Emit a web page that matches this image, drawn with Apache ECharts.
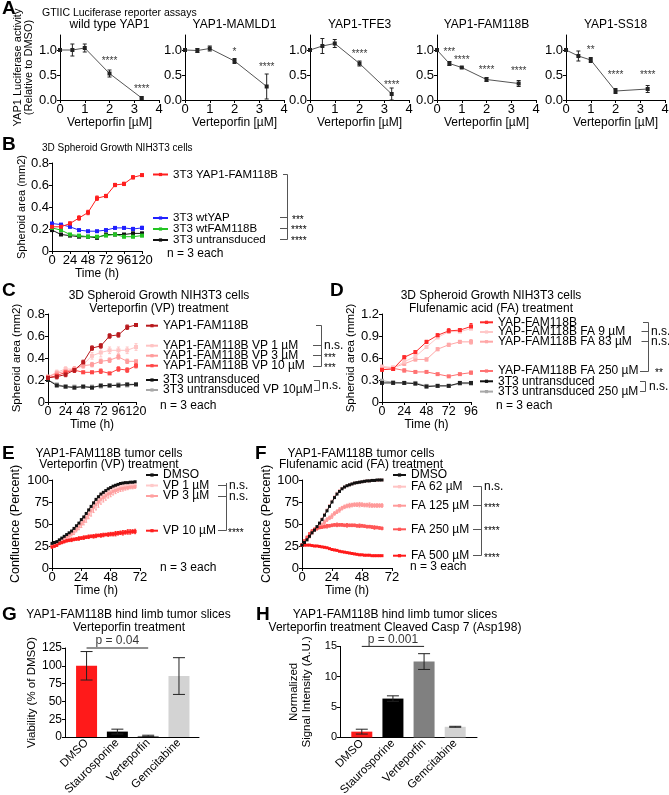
<!DOCTYPE html>
<html><head><meta charset="utf-8">
<script src="https://cdn.jsdelivr.net/npm/echarts@6/dist/echarts.min.js"></script>
<style>html,body{margin:0;padding:0;background:#fff}#c{width:669px;height:795px}</style>
</head><body><div id="c"></div>
<script>
// ================= DATA =================
// Panel A: GTIIC luciferase
const doseA = [0, 0.5, 1, 2, 3.3];
const titlesA = ['wild type YAP1', 'YAP1-MAMLD1', 'YAP1-TFE3', 'YAP1-FAM118B', 'YAP1-SS18'];
const lucWT = [1.0, 1.0, 1.04, 0.53, 0.04];
const lucWTErr = [0.03, 0.12, 0.08, 0.07, 0.02];
const lucMAMLD1 = [1.0, 0.99, 1.03, 0.78, 0.27];
const lucMAMLD1Err = [0.03, 0.04, 0.05, 0.05, 0.25];
const lucTFE3 = [1.0, 1.08, 1.13, 0.73, 0.12];
const lucTFE3Err = [0.02, 0.15, 0.08, 0.05, 0.12];
const lucFAM = [1.0, 0.73, 0.65, 0.41, 0.33];
const lucFAMErr = [0.03, 0.04, 0.01, 0.04, 0.06];
const lucSS18 = [1.0, 0.88, 0.80, 0.18, 0.22];
const lucSS18Err = [0.03, 0.10, 0.05, 0.05, 0.07];
const starsWT = [[2, 0.81, '****'], [3.3, 0.26, '****']];
const starsMAMLD1 = [[2, 1.0, '*'], [3.3, 0.69, '****']];
const starsTFE3 = [[2, 0.95, '****'], [3.3, 0.34, '****']];
const starsFAM = [[0.5, 1.0, '***'], [1, 0.83, '****'], [2, 0.63, '****'], [3.3, 0.61, '****']];
const starsSS18 = [[1, 1.04, '**'], [2, 0.53, '****'], [3.3, 0.53, '****']];

// Panel B: 3D spheroid growth
const timeB = [0, 12, 24, 36, 48, 60, 72, 84, 96, 108, 120];
const bYapFam = [0.22, 0.22, 0.25, 0.30, 0.35, 0.48, 0.50, 0.60, 0.61, 0.67, 0.69];
const bYapFamErr = [0.01, 0.01, 0.015, 0.02, 0.02, 0.02, 0.015, 0.015, 0.015, 0.015, 0.01];
const bWtYap = [0.25, 0.24, 0.22, 0.19, 0.18, 0.18, 0.19, 0.21, 0.21, 0.20, 0.21];
const bWtYapErr = [0.01, 0.01, 0.01, 0.01, 0.005, 0.005, 0.01, 0.01, 0.01, 0.015, 0.015];
const bWtFam = [0.21, 0.19, 0.15, 0.14, 0.13, 0.13, 0.14, 0.15, 0.13, 0.13, 0.14];
const bWtFamErr = [0.01, 0.01, 0.01, 0.005, 0.005, 0.005, 0.005, 0.01, 0.01, 0.01, 0.01];
const bUntr = [0.19, 0.15, 0.14, 0.13, 0.13, 0.12, 0.15, 0.15, 0.15, 0.16, 0.16];
const bUntrErr = [0.01, 0.005, 0.005, 0.005, 0.005, 0.01, 0.01, 0.005, 0.005, 0.01, 0.01];

// Panel C: VP treatment spheroids
const timeC = [0, 12, 24, 36, 48, 60, 72, 84, 96, 108, 120];
const cYapFam = [0.22, 0.23, 0.25, 0.29, 0.36, 0.49, 0.51, 0.60, 0.61, 0.68, 0.70];
const cYapFamErr = [0.02, 0.02, 0.02, 0.02, 0.02, 0.02, 0.02, 0.02, 0.02, 0.02, 0.01];
const cVP1 = [0.23, 0.27, 0.30, 0.30, 0.34, 0.42, 0.45, 0.47, 0.47, 0.47, 0.50];
const cVP1Err = [0.01, 0.02, 0.02, 0.02, 0.03, 0.03, 0.04, 0.03, 0.03, 0.03, 0.03];
const cVP3 = [0.23, 0.26, 0.28, 0.30, 0.33, 0.34, 0.37, 0.38, 0.41, 0.37, 0.37];
const cVP3Err = [0.01, 0.02, 0.02, 0.02, 0.02, 0.02, 0.02, 0.02, 0.02, 0.02, 0.01];
const cVP10 = [0.22, 0.24, 0.27, 0.29, 0.27, 0.27, 0.28, 0.26, 0.30, 0.29, 0.33];
const cVP10Err = [0.01, 0.01, 0.02, 0.02, 0.01, 0.01, 0.02, 0.01, 0.02, 0.02, 0.02];
const cUntr = [0.20, 0.15, 0.14, 0.13, 0.14, 0.13, 0.15, 0.15, 0.15, 0.16, 0.16];
const cUntrVP = [0.20, 0.16, 0.14, 0.14, 0.14, 0.14, 0.14, 0.15, 0.16, 0.15, 0.16];

// Panel D: FA treatment spheroids
const timeD = [0, 12, 24, 36, 48, 60, 72, 84, 96];
const dYapFam = [0.44, 0.45, 0.61, 0.68, 0.82, 0.91, 0.97, 0.98, 1.03];
const dYapFamErr = [0.02, 0.02, 0.02, 0.02, 0.02, 0.02, 0.03, 0.02, 0.04];
const dFA9 = [0.48, 0.46, 0.55, 0.62, 0.75, 0.88, 0.96, 0.96, 1.00];
const dFA83 = [0.48, 0.47, 0.52, 0.58, 0.58, 0.72, 0.78, 0.82, 0.82];
const dFA83Err = [0.02, 0.01, 0.02, 0.02, 0.02, 0.02, 0.02, 0.02, 0.03];
const dFA250 = [0.47, 0.46, 0.43, 0.41, 0.41, 0.38, 0.35, 0.38, 0.40];
const dFA250Err = [0.02, 0.01, 0.02, 0.01, 0.01, 0.01, 0.01, 0.01, 0.02];
const dUntr = [0.26, 0.26, 0.26, 0.25, 0.21, 0.22, 0.22, 0.26, 0.26];
const dUntr250 = [0.29, 0.27, 0.26, 0.26, 0.22, 0.22, 0.22, 0.25, 0.25];

// Panel E: tumor cells confluence, VP
const timeE = [0,2,4,6,8,10,12,14,16,18,20,22,24,26,28,30,32,34,36,38,40,42,44,46,48,50,52,54,56,58,60,62,64,66,68];
const eDMSO = [28,29,30,32,34,36,38,40,42,45,48,51,55,58,62,66,70,74,78,81,84,86,88,90,91.5,93,94,95,96,96.5,97,97,97.5,97.5,98];
const eVP1 = [26,27,28,30,32,34,36,38,40,43,46,49,52,56,60,64,68,72,76,79,82,84,86,88,89,90,91,92,92.5,93,93.5,94,94,94.5,95];
const eVP1Err = [1,1,1,1,1,1.5,1.5,1.5,2,2,2,2.5,2.5,3,3,3,3,3,3,3,3,2.5,2.5,2.5,2,2,2,2,2,1.5,1.5,1.5,1.5,1.5,1.5];
const eVP3 = [25,26,27,29,31,33,35,37,39,41,44,47,50,53,57,61,65,69,72,75,78,80,82,84,85,87,88,89,90,90.5,91,91.5,92,92,92.5];
const eVP3Err = [1,1,1,1.5,1.5,2,2,2,2.5,3,3,3.5,4,4,5,5,6,6,6,6,5.5,5,5,4.5,4,4,3.5,3,3,3,2.5,2.5,2,2,2];
const eVP10 = [24,25,26,28,29,30,31,31.5,32,32.5,33,33.5,34,34.5,35,35.5,36,36,36.5,37,37,37.5,38,38,38.5,38.5,39,39.5,40,40,40.5,41,41,41.5,41.5];
const eVP10Err = [1.5,1.5,1.5,1.5,1.5,1.5,1.5,1.5,2,1.5,1.5,2,1.5,2,1.5,2,1.5,2,2,1.5,2,2,1.5,2,2,2,2.5,2,2,2.5,2,2.5,2.5,2,2.5];

// Panel F: tumor cells confluence, FA
const timeF = [0,2,4,6,8,10,12,14,16,18,20,22,24,26,28,30,32,34,36,38,40,42,44,46,48,50,52,54,56,58,60,62,64];
const fDMSO = [26,29,32,36,40,43,47,51,55,60,65,70,75,80,84,87,90,92,93.5,94.5,95.5,96.5,97,97.5,98,98.5,99,99,99.5,99.5,100,100,100];
const fFA62 = [26,29,32,35,39,43,47,51,56,61,66,71,76,81,85,88,90.5,92,93.5,94.5,95.5,96.5,97,97.5,98,98.5,99,99,99.5,99.5,99.5,100,100];
const fFA125 = [26,30,34,38,41,43,45,47,49,52,55,57,59,62,64,66,68,69.5,70.5,71,71.5,72,72,72,72,71.5,71.5,71.5,71,71,71,71,71];
const fFA125Err = [0.5,1,1,1.5,1.5,1.5,2,2,2,2.5,2,2,2.5,2,2,2.5,2,2,2,2.5,2,2,2,2.5,2,2,2,2.5,2,2,2,2,2];
const fFA250 = [26,31,35,39,42,44,45,46,46.5,47,47.5,48,48.5,49,49,49,49,48.5,48.5,48.5,48.5,48.5,48,48,48,47.5,47,47,46.5,46,46,45.5,45];
const fFA250Err = [0.5,1,1,1,1.5,1.5,1.5,1.5,1.5,1.5,2,1.5,1.5,1.5,2,1.5,1.5,1.5,2,1.5,1.5,1.5,1.5,2,1.5,1.5,1.5,1.5,1.5,2,1.5,1.5,1.5];
const fFA500 = [26,26,26,26,25.5,25,25,24.5,24,23.5,23,22,21,20.5,20,19,18.5,18,17.5,17,16.5,16,15.5,15,15,14.5,14.5,14.5,14,14,14,14,14];

// Panels G / H: tumor slices
const treatments = ['DMSO', 'Staurosporine', 'Verteporfin', 'Gemcitabine'];
const viability = [100, 7.6, 1.5, 85.6];
const viabilityErr = [20, 3.4, 1, 25.8];
const casp7 = [0.95, 6.4, 12.5, 1.75];
const casp7Err = [0.4, 0.45, 1.3, 0.08];
const barColors = ['#ff1a1a', '#000000', '#808080', '#d3d3d3'];

// ================= BUILD =================
const FF = "'Liberation Sans', Arial, Helvetica, sans-serif";
const grids = [], xAxes = [], yAxes = [], series = [], legends = [], gfx = [];

function merge(a, b) {
  for (const k in b) {
    if (b[k] && typeof b[k] === 'object' && !Array.isArray(b[k]) && a[k] && typeof a[k] === 'object' && !Array.isArray(a[k])) merge(a[k], b[k]);
    else a[k] = b[k];
  }
  return a;
}
function vAxis(o) {
  return merge({
    type: 'value', splitLine: { show: false }, nameLocation: 'middle',
    axisLine: { show: true, onZero: false, lineStyle: { color: '#000', width: 1 } },
    axisTick: { show: true, length: 3, lineStyle: { color: '#000', width: 1 } },
    axisLabel: { color: '#000', fontFamily: FF, fontSize: 13, margin: 3 },
    nameTextStyle: { color: '#000', fontFamily: FF, fontSize: 12 }
  }, o || {});
}
function addGrid(g, x, y) {
  const i = grids.length;
  grids.push(merge({ containLabel: false, outerBoundsMode: 'none' }, g));
  x.gridIndex = i; y.gridIndex = i;
  xAxes.push(x); yAxes.push(y);
  return i;
}
function lineS(gi, name, xs, ys, color, opt) {
  return merge({
    type: 'line', name: name, xAxisIndex: gi, yAxisIndex: gi,
    data: xs.map((x, i) => [x, ys[i]]),
    symbol: 'rect', symbolSize: 4, showSymbol: true,
    lineStyle: { color: color, width: 1 }, itemStyle: { color: color },
    emphasis: { disabled: true }, silent: true, clip: false, z: 3
  }, opt || {});
}
function errRender(color, cap) {
  return function (params, api) {
    const x = api.value(0), y = api.value(1), e = api.value(2);
    const p1 = api.coord([x, y + e]), p2 = api.coord([x, y - e]);
    const st = { stroke: color, lineWidth: 1 };
    return { type: 'group', children: [
      { type: 'line', shape: { x1: p1[0], y1: p1[1], x2: p2[0], y2: p2[1] }, style: st },
      { type: 'line', shape: { x1: p1[0] - cap / 2, y1: p1[1], x2: p1[0] + cap / 2, y2: p1[1] }, style: st },
      { type: 'line', shape: { x1: p2[0] - cap / 2, y1: p2[1], x2: p2[0] + cap / 2, y2: p2[1] }, style: st }
    ] };
  };
}
function errS(gi, xs, ys, es, color, cap, z) {
  return { type: 'custom', xAxisIndex: gi, yAxisIndex: gi, silent: true, z: z || 2, clip: false,
    data: xs.map((x, i) => [x, ys[i], es[i]]), encode: { x: 0, y: 1 },
    renderItem: errRender(color, cap) };
}
function labelS(gi, pts, fontSize, offY) {
  return { type: 'scatter', xAxisIndex: gi, yAxisIndex: gi, silent: true, z: 6, symbolSize: 0, clip: false,
    data: pts.map(p => ({ value: [p[0], p[1]], label: { formatter: p[2] } })),
    label: { show: true, position: 'inside', color: '#000', fontSize: fontSize, fontFamily: FF, offset: [0, offY || 0] } };
}
function T(text, x, y, o) {
  o = o || {};
  const al = o.align || 'left';
  return { type: 'text', x: x, y: y, silent: true, z: 100,
    style: { text: text, fill: o.color || '#000', fontSize: o.fontSize || 12, fontFamily: FF,
      fontWeight: o.fontWeight || 'normal', align: al, verticalAlign: 'middle',
      textAlign: al, textVerticalAlign: 'middle' } };
}
function L(x1, y1, x2, y2, color) {
  return { type: 'line', silent: true, z: 100, shape: { x1: x1, y1: y1, x2: x2, y2: y2 },
    style: { stroke: color || '#555', lineWidth: 1 } };
}
function legend(names, left, top, fontSize, gap, iw) {
  legends.push({ data: names, orient: 'vertical', left: left, top: top, padding: 0,
    itemWidth: iw || 13, itemHeight: 4, itemGap: gap, selectedMode: false,
    textStyle: { color: '#000', fontSize: fontSize, fontFamily: FF } });
}

// ---------- Panel A ----------
const lucA = [lucWT, lucMAMLD1, lucTFE3, lucFAM, lucSS18];
const lucAErr = [lucWTErr, lucMAMLD1Err, lucTFE3Err, lucFAMErr, lucSS18Err];
const starsA = [starsWT, starsMAMLD1, starsTFE3, starsFAM, starsSS18];
const aLefts = [60, 185, 310, 437, 566];
for (let i = 0; i < 5; i++) {
  const gi = addGrid({ left: aLefts[i], top: 35, width: 99, height: 65 },
    vAxis({ min: 0, max: 4, interval: 1, name: 'Verteporfin [µM]', nameGap: 13,
      nameTextStyle: { fontSize: 12 } }),
    vAxis({ min: 0, max: 1.3,
      axisLabel: { customValues: [0, 0.5, 1], formatter: v => Number(v).toFixed(1) },
      axisTick: { customValues: [0, 0.5, 1] },
      name: i === 0 ? 'YAP1 Luciferase activity\n(Relative to DMSO)' : '', nameGap: 17,
      nameTextStyle: { fontSize: 11, lineHeight: 11.5 } }));
  series.push(errS(gi, doseA, lucA[i], lucAErr[i], '#222', 4));
  series.push(lineS(gi, 'A' + i, doseA, lucA[i], '#222', { lineStyle: { color: '#555' } }));
  series.push(labelS(gi, starsA[i], 10, 2));
  gfx.push(T(titlesA[i], aLefts[i] + 49.5, 25, { fontSize: 12, align: 'center' }));
}
gfx.push(T('GTIIC Luciferase reporter assays', 42, 13, { fontSize: 10.5 }));

// ---------- Panel B ----------
const ySpheroidFmt = v => (v === 0 ? '0' : Number(v).toFixed(1));
{
  const gi = addGrid({ left: 52, top: 163, width: 90, height: 88 },
    vAxis({ min: 0, max: 120, interval: 24, name: 'Time (h)', nameGap: 13 }),
    vAxis({ min: 0, max: 0.8, interval: 0.2, axisLabel: { formatter: ySpheroidFmt },
      name: 'Spheroid area (mm2)', nameGap: 24, nameTextStyle: { fontSize: 11 } }));
  const C = { red: '#ff1f1f', blue: '#2020ff', green: '#22c422', black: '#111' };
  series.push(errS(gi, timeB, bUntr, bUntrErr, C.black, 3));
  series.push(lineS(gi, '3T3 untransduced', timeB, bUntr, C.black));
  series.push(errS(gi, timeB, bWtFam, bWtFamErr, C.green, 3));
  series.push(lineS(gi, '3T3 wtFAM118B', timeB, bWtFam, C.green));
  series.push(errS(gi, timeB, bWtYap, bWtYapErr, C.blue, 3));
  series.push(lineS(gi, '3T3 wtYAP', timeB, bWtYap, C.blue));
  series.push(errS(gi, timeB, bYapFam, bYapFamErr, C.red, 3));
  series.push(lineS(gi, '3T3 YAP1-FAM118B', timeB, bYapFam, C.red));
  legend(['3T3 YAP1-FAM118B'], 152, 168.5, 11.5, -1, 15);
  legend(['3T3 wtYAP', '3T3 wtFAM118B', '3T3 untransduced'], 152, 212, 11.5, -1, 15);
  gfx.push(T('3D Spheroid Growth NIH3T3 cells', 42, 148, { fontSize: 10 }));
  gfx.push(T('n = 3 each', 167, 254, { fontSize: 12 }));
  gfx.push(L(287.5, 174.5, 287.5, 239.5), L(283, 174.5, 287.5, 174.5),
    L(280, 217.5, 287.5, 217.5), L(280, 228.5, 287.5, 228.5), L(280, 239.5, 287.5, 239.5));
  gfx.push(T('***', 292, 220.5, { fontSize: 10 }), T('****', 291, 230.5, { fontSize: 10 }), T('****', 291, 241.5, { fontSize: 10 }));
}

// ---------- Panel C ----------
{
  const gi = addGrid({ left: 48, top: 314, width: 88, height: 88 },
    vAxis({ min: 0, max: 120, interval: 24, name: 'Time (h)', nameGap: 13, axisLabel: { fontSize: 12.5 } }),
    vAxis({ min: 0, max: 0.8, interval: 0.2, axisLabel: { formatter: ySpheroidFmt },
      name: 'Spheroid area (mm2)', nameGap: 21, nameTextStyle: { fontSize: 11.5 } }));
  const C = { dark: '#b8191d', vp1: '#ffc4c4', vp3: '#ff9c9c', vp10: '#ff4646', black: '#222', grey: '#a8a8a8' };
  series.push(lineS(gi, '3T3 untransduced VP 10µM', timeC, cUntrVP, C.grey));
  series.push(lineS(gi, '3T3 untransduced', timeC, cUntr, C.black));
  series.push(errS(gi, timeC, cVP1, cVP1Err, C.vp1, 3));
  series.push(lineS(gi, 'YAP1-FAM118B VP 1 µM', timeC, cVP1, C.vp1));
  series.push(errS(gi, timeC, cVP3, cVP3Err, C.vp3, 3));
  series.push(lineS(gi, 'YAP1-FAM118B VP 3 µM', timeC, cVP3, C.vp3));
  series.push(errS(gi, timeC, cVP10, cVP10Err, C.vp10, 3));
  series.push(lineS(gi, 'YAP1-FAM118B VP 10 µM', timeC, cVP10, C.vp10));
  series.push(errS(gi, timeC, cYapFam, cYapFamErr, C.dark, 3));
  series.push(lineS(gi, 'YAP1-FAM118B', timeC, cYapFam, C.dark));
  legend(['YAP1-FAM118B'], 145, 319.7, 12, -2, 12);
  legend(['YAP1-FAM118B VP 1 µM', 'YAP1-FAM118B VP 3 µM', 'YAP1-FAM118B VP 10 µM'], 145, 339.7, 12, -2, 12);
  legend(['3T3 untransduced', '3T3 untransduced VP 10µM'], 145, 374, 12, -2, 12);
  gfx.push(T('3D Spheroid Growth NIH3T3 cells', 159, 296, { fontSize: 12, align: 'center' }));
  gfx.push(T('Verteporfin (VP) treatment', 159, 308.3, { fontSize: 12, align: 'center' }));
  gfx.push(T('n = 3 each', 160, 405.7, { fontSize: 12 }));
  gfx.push(L(321.5, 325.5, 321.5, 366.5), L(316, 325.5, 321.5, 325.5),
    L(313, 345.5, 321.5, 345.5), L(313, 355.5, 321.5, 355.5), L(313, 366.5, 321.5, 366.5));
  gfx.push(T('n.s.', 324, 345.7, { fontSize: 12 }), T('***', 324, 358, { fontSize: 10 }), T('***', 324, 368.5, { fontSize: 10 }));
  gfx.push(L(319.5, 380.5, 319.5, 390.5), L(314, 380.5, 319.5, 380.5), L(314, 390.5, 319.5, 390.5));
  gfx.push(T('n.s.', 322, 385.5, { fontSize: 12 }));
}

// ---------- Panel D ----------
{
  const gi = addGrid({ left: 382, top: 314, width: 89, height: 88 },
    vAxis({ min: 0, max: 96, interval: 24, name: 'Time (h)', nameGap: 13, axisLabel: { fontSize: 12.5 } }),
    vAxis({ min: 0, max: 1.2, interval: 0.3, axisLabel: { formatter: ySpheroidFmt },
      name: 'Spheroid area (mm2)', nameGap: 24, nameTextStyle: { fontSize: 11.5 } }));
  const C = { red: '#ff2a2a', fa9: '#ffc8c8', fa83: '#ffa8a8', fa250: '#ff7272', black: '#222', grey: '#a8a8a8' };
  series.push(lineS(gi, '3T3 untransduced 250 µM', timeD, dUntr250, C.grey));
  series.push(lineS(gi, '3T3 untransduced', timeD, dUntr, C.black));
  series.push(errS(gi, timeD, dFA250, dFA250Err, C.fa250, 3));
  series.push(lineS(gi, 'YAP-FAM118B FA 250 µM', timeD, dFA250, C.fa250));
  series.push(errS(gi, timeD, dFA83, dFA83Err, C.fa83, 3));
  series.push(lineS(gi, 'YAP-FAM118B FA 83 µM', timeD, dFA83, C.fa83));
  series.push(lineS(gi, 'YAP-FAM118B FA 9 µM', timeD, dFA9, C.fa9));
  series.push(errS(gi, timeD, dYapFam, dYapFamErr, C.red, 3));
  series.push(lineS(gi, 'YAP-FAM118B', timeD, dYapFam, C.red));
  legend(['YAP-FAM118B', 'YAP-FAM118B FA 9 µM', 'YAP-FAM118B FA 83 µM'], 479, 316.3, 12, -2.3, 13);
  legend(['YAP-FAM118B FA 250 µM', '3T3 untransduced', '3T3 untransduced 250 µM'], 479, 365, 12, -1.7, 13);
  gfx.push(T('3D Spheroid Growth NIH3T3 cells', 491, 296, { fontSize: 12, align: 'center' }));
  gfx.push(T('Flufenamic acid (FA) treatment', 491, 308.3, { fontSize: 12, align: 'center' }));
  gfx.push(T('n = 3 each', 496, 405.7, { fontSize: 12 }));
  gfx.push(L(648.5, 322.5, 648.5, 371.5), L(643, 322.5, 648.5, 322.5),
    L(641.5, 331.5, 648.5, 331.5), L(641.5, 341.5, 648.5, 341.5), L(640, 371.5, 648.5, 371.5));
  gfx.push(T('n.s.', 651, 331.7, { fontSize: 12 }), T('n.s.', 651, 341.7, { fontSize: 12 }), T('**', 655, 373.5, { fontSize: 10 }));
  gfx.push(L(645.5, 381.5, 645.5, 391.5), L(640, 381.5, 645.5, 381.5), L(640, 391.5, 645.5, 391.5));
  gfx.push(T('n.s.', 649, 386.7, { fontSize: 12 }));
}

// ---------- Panel E ----------
{
  const gi = addGrid({ left: 52, top: 480, width: 88, height: 88 },
    vAxis({ min: 0, max: 72, interval: 24, name: 'Time (h)', nameGap: 14 }),
    vAxis({ min: 0, max: 100, interval: 25, name: 'Confluence (Percent)', nameGap: 29.5,
      nameTextStyle: { fontSize: 12.5 } }));
  const C = { vp1: '#ffcaca', vp3: '#ffa0a0', vp10: '#ff1f1f', black: '#111' };
  series.push(errS(gi, timeE, eVP1, eVP1Err, C.vp1, 2));
  series.push(lineS(gi, 'VP 1 µM', timeE, eVP1, C.vp1, { symbolSize: 3 }));
  series.push(errS(gi, timeE, eVP3, eVP3Err, C.vp3, 2));
  series.push(lineS(gi, 'VP 3 µM', timeE, eVP3, C.vp3, { symbolSize: 3 }));
  series.push(errS(gi, timeE, eVP10, eVP10Err, C.vp10, 2));
  series.push(lineS(gi, 'VP 10 µM', timeE, eVP10, C.vp10, { symbolSize: 3 }));
  series.push(lineS(gi, 'DMSO', timeE, eDMSO, C.black, { symbolSize: 3, z: 4 }));
  legend(['DMSO', 'VP 1 µM', 'VP 3 µM'], 145, 469, 12, -1.5, 12);
  legend(['VP 10 µM'], 145, 524.7, 12, 0, 12);
  gfx.push(T('YAP1-FAM118B tumor cells', 109, 453.3, { fontSize: 12, align: 'center' }));
  gfx.push(T('Verteporfin (VP) treatment', 109, 464.5, { fontSize: 12, align: 'center' }));
  gfx.push(T('n = 3 each', 160, 567.3, { fontSize: 12 }));
  gfx.push(L(226.5, 483, 226.5, 530.5), L(218, 485.5, 226.5, 485.5), L(218, 496.5, 226.5, 496.5), L(218, 530.5, 226.5, 530.5));
  gfx.push(T('n.s.', 229, 485.5, { fontSize: 12 }), T('n.s.', 229, 496.5, { fontSize: 12 }), T('****', 228, 533, { fontSize: 10 }));
}

// ---------- Panel F ----------
{
  const gi = addGrid({ left: 302, top: 480, width: 90, height: 88 },
    vAxis({ min: 0, max: 72, interval: 24, name: 'Time (h)', nameGap: 14 }),
    vAxis({ min: 0, max: 100, interval: 25, name: 'Confluence (Percent)', nameGap: 27.5,
      nameTextStyle: { fontSize: 12.5 } }));
  const C = { fa62: '#ffc4c4', fa125: '#ff9a9a', fa250: '#ff5656', fa500: '#ff1a1a', black: '#111' };
  series.push(lineS(gi, 'FA 62 µM', timeF, fFA62, C.fa62, { symbolSize: 3 }));
  series.push(errS(gi, timeF, fFA125, fFA125Err, C.fa125, 2));
  series.push(lineS(gi, 'FA 125 µM', timeF, fFA125, C.fa125, { symbolSize: 3 }));
  series.push(errS(gi, timeF, fFA250, fFA250Err, C.fa250, 2));
  series.push(lineS(gi, 'FA 250 µM', timeF, fFA250, C.fa250, { symbolSize: 3 }));
  series.push(lineS(gi, 'FA 500 µM', timeF, fFA500, C.fa500, { symbolSize: 3 }));
  series.push(lineS(gi, 'DMSO', timeF, fDMSO, C.black, { symbolSize: 3, z: 4 }));
  legend(['DMSO', 'FA 62 µM'], 392, 469, 12, -0.3, 13);
  legend(['FA 125 µM'], 392, 499.7, 12, 0, 13);
  legend(['FA 250 µM'], 392, 523.3, 12, 0, 13);
  legend(['FA 500 µM'], 392, 549.7, 12, 0, 13);
  gfx.push(T('YAP1-FAM118B tumor cells', 361, 453.3, { fontSize: 12, align: 'center' }));
  gfx.push(T('Flufenamic acid (FA) treatment', 361, 464.5, { fontSize: 12, align: 'center' }));
  gfx.push(T('n = 3 each', 410, 566.7, { fontSize: 12 }));
  gfx.push(L(481.5, 486.5, 481.5, 555.5), L(473, 486.5, 481.5, 486.5), L(473, 505.5, 481.5, 505.5),
    L(473, 529.5, 481.5, 529.5), L(473, 555.5, 481.5, 555.5));
  gfx.push(T('n.s.', 484, 486.7, { fontSize: 12 }), T('****', 484, 508, { fontSize: 10 }),
    T('****', 484, 531.5, { fontSize: 10 }), T('****', 484, 558, { fontSize: 10 }));
}

// ---------- Panels G & H (bars) ----------
function barPanel(left, top, width, height, xmin, xmax, ymax, yint, vals, errs, yname, yGap, yFont, pText, pY) {
  const idx = [0, 1, 2, 3];
  const gi = addGrid({ left: left, top: top, width: width, height: height },
    vAxis({ min: xmin, max: xmax, axisTick: { show: false },
      axisLabel: { customValues: idx, formatter: v => treatments[Math.round(v)] || '', rotate: 45, fontSize: 11.5, margin: 4 } }),
    vAxis({ min: 0, max: ymax, interval: yint, axisLabel: { fontSize: yFont, margin: 3 },
      name: yname, nameGap: yGap, nameTextStyle: { fontSize: 11.5, lineHeight: 13 } }));
  series.push({ type: 'bar', xAxisIndex: gi, yAxisIndex: gi, barWidth: 21, silent: true, z: 2,
    data: idx.map(i => ({ value: [i, vals[i]], itemStyle: { color: barColors[i] } })) });
  series.push(errS(gi, idx, vals, errs, '#222', 12, 3));
  series.push({ type: 'line', xAxisIndex: gi, yAxisIndex: gi, silent: true, symbol: 'none', clip: false, z: 3,
    lineStyle: { color: '#222', width: 1 }, data: [[0, pY], [2, pY]] });
  series.push(labelS(gi, [[1, pY, pText]], 12, -7));
  return gi;
}
barPanel(65, 648, 134, 89, -0.7, 3.65, 125, 25, viability, viabilityErr, 'Viability (% of DMSO)', 25, 12, 'p = 0.04', 125);
barPanel(340, 646.4, 137, 91, -0.7, 3.7, 15, 5, casp7, casp7Err, 'Normalized\nSignal Intensity (A.U.)', 27, 11, 'p = 0.001', 15);
gfx.push(T('YAP1-FAM118B hind limb tumor slices', 128.5, 615, { fontSize: 12, align: 'center' }));
gfx.push(T('Verteporfin treatment', 129, 627.7, { fontSize: 12, align: 'center' }));
gfx.push(T('YAP1-FAM118B hind limb tumor slices', 395, 615, { fontSize: 12, align: 'center' }));
gfx.push(T('Verteporfin treatment Cleaved Casp 7 (Asp198)', 395, 627.7, { fontSize: 12, align: 'center' }));

// ---------- Panel letters ----------
[['A', 2, 9], ['B', 2, 145], ['C', 2, 291], ['D', 330, 291], ['E', 2, 454], ['F', 255, 454], ['G', 2, 615], ['H', 256, 615]]
  .forEach(p => gfx.push(T(p[0], p[1], p[2], { fontSize: 19, fontWeight: 'bold' })));

const chart = echarts.init(document.getElementById('c'), null, { renderer: 'canvas' });
chart.setOption({
  animation: false,
  backgroundColor: '#fff',
  textStyle: { fontFamily: FF },
  tooltip: { show: false },
  grid: grids, xAxis: xAxes, yAxis: yAxes,
  legend: legends, series: series,
  graphic: gfx
});
</script></body></html>
